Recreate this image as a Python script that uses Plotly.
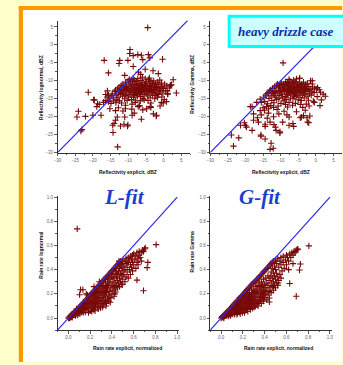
import plotly.graph_objects as go

# ---------------- data ----------------
refl_lognormal_pts = [
    (-15.2,-15.0),(-14.8,-14.2),(-14.5,-13.6),(-14.1,-14.8),(-13.8,-13.0),(-13.6,-12.6),(-13.4,-14.0),(-13.2,-15.3),(-13.0,-12.2),(-12.8,-13.4),
    (-15.6,-15.8),(-14.9,-16.3),(-14.2,-15.6),(-13.5,-16.1),(-12.9,-14.6),
    (-12.6,-11.8),(-12.4,-12.9),(-12.2,-13.8),(-12.0,-11.3),(-11.8,-12.4),(-11.6,-14.3),(-11.5,-10.9),(-11.3,-13.1),(-11.1,-12.0),(-11.0,-15.0),
    (-12.5,-15.6),(-11.9,-16.2),(-11.4,-11.6),(-12.1,-12.6),(-11.7,-13.5),
    (-10.8,-10.4),(-10.7,-12.8),(-10.5,-11.5),(-10.4,-13.7),(-10.2,-12.2),(-10.0,-10.0),(-9.9,-14.5),(-9.8,-11.1),(-9.6,-12.9),(-9.5,-13.9),
    (-9.4,-10.6),(-9.3,-12.0),(-9.1,-15.2),(-9.0,-11.4),(-10.9,-14.1),(-10.3,-15.5),(-9.7,-9.6),(-10.6,-11.9),(-9.2,-13.3),(-10.1,-12.5),
    (-8.9,-12.6),(-8.8,-10.2),(-8.7,-13.8),(-8.6,-11.7),(-8.5,-14.6),(-8.4,-12.2),(-8.3,-9.8),(-8.2,-13.1),(-8.1,-11.0),(-8.0,-12.8),
    (-7.9,-15.4),(-7.8,-10.6),(-7.7,-13.5),(-7.6,-11.9),(-7.5,-12.4),(-7.4,-14.2),(-7.3,-9.4),(-7.2,-11.3),(-7.1,-13.0),(-7.0,-12.1),
    (-8.6,-9.3),(-8.0,-16.0),(-7.6,-10.1),(-8.3,-14.0),(-7.2,-12.7),
    (-6.9,-10.8),(-6.8,-13.6),(-6.7,-12.3),(-6.6,-11.5),(-6.5,-14.4),(-6.4,-9.9),(-6.3,-12.9),(-6.2,-11.1),(-6.1,-13.3),(-6.0,-12.0),
    (-5.9,-10.4),(-5.8,-14.9),(-5.7,-11.8),(-5.6,-12.6),(-5.5,-13.8),(-5.4,-10.9),(-5.3,-12.2),(-5.2,-9.5),(-5.1,-11.4),(-5.0,-13.0),
    (-6.6,-15.6),(-6.0,-9.0),(-5.5,-15.3),(-6.3,-11.2),(-5.8,-12.4),
    (-4.9,-12.5),(-4.8,-10.3),(-4.7,-13.6),(-4.6,-11.6),(-4.5,-14.2),(-4.4,-12.0),(-4.3,-9.7),(-4.2,-13.1),(-4.1,-10.8),(-4.0,-12.7),
    (-3.9,-11.3),(-3.8,-14.7),(-3.7,-12.3),(-3.6,-10.1),(-3.5,-13.4),(-3.4,-11.8),(-3.3,-12.9),(-3.2,-10.6),(-3.1,-14.0),(-3.0,-11.1),
    (-4.4,-15.5),(-3.6,-16.2),(-4.0,-9.2),
    (-2.9,-12.4),(-2.8,-10.0),(-2.7,-13.2),(-2.6,-11.5),(-2.4,-12.8),(-2.3,-10.9),(-2.2,-14.1),(-2.0,-11.9),(-1.9,-13.5),(-1.8,-10.4),
    (-1.6,-12.2),(-1.5,-11.0),(-1.4,-13.8),(-1.2,-12.6),(-1.1,-9.8),(-1.0,-11.6),(-2.5,-15.0),(-1.7,-14.6),
    (-0.8,-12.9),(-0.6,-10.6),(-0.4,-11.8),(-0.2,-13.4),(0.0,-12.1),(0.3,-10.9),(0.6,-12.7),(0.9,-11.4),(1.2,-13.6),(1.6,-12.0),
    (2.7,-9.7),(1.0,-12.8),(-0.5,-14.5),(0.2,-15.2),(2.0,-11.2),(3.6,-13.4),(2.2,-11.1),
    (-4.5,4.8),(-9.5,-1.3),(-9.6,-2.4),(-8.6,-3.0),(-7.3,-2.7),(-4.3,-2.7),(-6.3,-2.9),(-3.9,-3.6),(-5.9,-4.1),(-16.8,-4.3),
    (-12.4,-4.3),(-12.6,-5.2),(-10.1,-4.3),(-8.6,-6.0),(-0.3,-4.0),(-15.6,-7.8),(-5.2,-6.8),(-7.1,-7.6),(-3.0,-7.2),(-1.5,-8.0),
    (-11.0,-8.5),(-6.5,-8.2),
    (-21.3,-13.2),(-19.8,-15.3),(-18.2,-16.6),(-18.9,-17.2),(-17.7,-19.6),(-24.1,-18.5),(-24.5,-20.1),(-22.1,-19.9),(-20.0,-19.6),(-23.1,-23.6),
    (-23.4,-24.0),(-14.4,-22.4),(-13.1,-20.1),(-11.0,-20.1),(-13.6,-21.0),(-12.2,-22.6),(-14.3,-24.4),(-13.0,-28.4),(-10.2,-22.6),(-10.1,-22.3),
    (-6.3,-20.7),(-2.1,-19.8),(-3.8,-17.2),(-3.6,-17.4),(-5.9,-18.1),(-7.2,-17.2),(-0.1,-16.2),
    (-16.5,-15.5),(-16.0,-14.5),(-15.2,-17.8),(-12.8,-17.5),(-11.5,-18.4),(-9.0,-17.9),(-8.3,-19.0),(-6.8,-16.9),(-4.8,-17.8),(-1.0,-17.0),
    (0.8,-15.8),(-17.0,-16.0),(-16.4,-13.8),(-10.8,-16.8),(-8.9,-16.5),(-15.9,-12.8),(-15.6,-14.0),(-18.7,-16.4),(-19.6,-15.3),(-14.0,-21.9),
    (-13.6,-18.3),(-10.8,-17.8),(-8.9,-19.6),(-11.2,-22.1),(-2.9,-19.2),(-2.0,-19.6),(-0.6,-16.0),(1.1,-13.7),(1.8,-11.4),
]

refl_gamma_pts = [
    (-14.8,-14.6),(-14.5,-15.8),(-14.2,-14.0),(-13.9,-13.6),(-13.7,-16.4),(-13.5,-13.3),(-13.3,-14.9),(-13.1,-12.9),(-15.5,-16.0),(-14.0,-17.2),
    (-13.4,-17.8),(-15.0,-17.5),(-14.6,-18.2),
    (-12.9,-12.6),(-12.7,-14.2),(-12.5,-15.5),(-12.3,-12.1),(-12.1,-13.5),(-11.9,-16.1),(-11.7,-11.7),(-11.5,-14.6),(-11.3,-12.8),(-11.1,-15.2),
    (-12.8,-16.9),(-12.0,-17.4),(-11.6,-13.2),(-12.4,-13.0),(-11.2,-11.3),(-11.8,-14.0),
    (-10.9,-10.9),(-10.8,-13.4),(-10.6,-12.0),(-10.5,-15.0),(-10.3,-11.4),(-10.2,-14.1),(-10.0,-12.6),(-9.9,-16.3),(-9.8,-10.6),(-9.6,-13.0),
    (-9.5,-11.8),(-9.4,-14.7),(-9.2,-12.3),(-9.1,-10.9),(-9.0,-15.6),(-10.7,-17.0),(-10.1,-11.0),(-9.7,-13.7),(-10.4,-12.9),(-9.3,-11.2),
    (-8.9,-13.1),(-8.8,-11.5),(-8.7,-14.4),(-8.6,-10.3),(-8.5,-12.4),(-8.4,-15.2),(-8.3,-11.0),(-8.2,-13.7),(-8.1,-12.0),(-8.0,-10.6),
    (-7.9,-14.0),(-7.8,-12.7),(-7.7,-11.3),(-7.6,-16.0),(-7.5,-13.3),(-7.4,-10.1),(-7.3,-12.2),(-7.2,-14.8),(-7.1,-11.7),(-7.0,-13.0),
    (-8.6,-16.6),(-8.0,-17.3),(-7.4,-12.5),(-8.3,-12.9),(-7.8,-10.9),
    (-6.9,-11.4),(-6.8,-13.5),(-6.7,-10.5),(-6.6,-12.6),(-6.5,-15.0),(-6.4,-11.9),(-6.3,-13.9),(-6.2,-10.8),(-6.1,-12.3),(-6.0,-14.4),
    (-5.9,-11.1),(-5.8,-13.0),(-5.7,-10.3),(-5.6,-12.0),(-5.5,-14.1),(-5.4,-11.6),(-5.3,-13.4),(-5.2,-10.9),(-5.1,-12.7),(-5.0,-15.3),
    (-6.6,-16.8),(-5.8,-16.3),(-6.3,-9.8),(-5.5,-9.5),(-6.0,-12.9),
    (-4.9,-11.8),(-4.8,-13.6),(-4.7,-10.6),(-4.6,-12.5),(-4.5,-14.6),(-4.4,-11.2),(-4.3,-13.1),(-4.2,-12.0),(-4.1,-15.5),(-4.0,-10.9),
    (-3.9,-12.8),(-3.8,-14.0),(-3.7,-11.5),(-3.6,-13.3),(-3.5,-10.4),(-3.4,-12.2),(-3.3,-14.8),(-3.2,-11.9),(-3.1,-13.7),(-3.0,-12.6),
    (-4.4,-16.6),(-3.7,-17.4),(-4.6,-9.3),
    (-2.9,-11.0),(-2.8,-13.0),(-2.6,-12.1),(-2.5,-14.3),(-2.4,-10.7),(-2.2,-12.8),(-2.1,-15.4),(-2.0,-11.6),(-1.8,-13.6),(-1.6,-12.4),
    (-1.5,-10.0),(-1.3,-14.0),(-1.1,-12.9),(-0.9,-11.7),(-0.7,-15.7),(-0.5,-13.3),(-0.3,-12.2),(-2.7,-16.5),(-1.9,-17.0),(-1.0,-10.9),
    (0.25,-12.3),(1.0,-12.5),(2.7,-14.3),(0.5,-11.9),(1.3,-13.2),(2.1,-13.7),(1.2,-16.9),(-0.4,-16.0),(0.4,-14.4),(1.6,-15.3),
    (-9.3,-5.0),(-7.6,-9.6),(-4.6,-9.3),(-1.0,-10.0),(-2.3,-21.5),(-4.1,-20.1),(-1.7,-19.8),(-18.1,-17.2),(-15.8,-18.3),(-17.7,-21.0),
    (-20.0,-22.4),(-18.1,-23.8),(-14.4,-22.7),(-15.6,-25.4),(-14.4,-26.2),(-12.7,-27.4),(-13.0,-29.1),(-12.1,-28.8),(-11.3,-23.8),(-10.2,-24.2),
    (-9.4,-21.5),(-11.9,-22.2),(-13.0,-21.5),(-6.5,-21.9),(-7.6,-20.1),(-3.5,-19.7),(-24.0,-25.1),(-23.4,-28.2),(-21.9,-25.9),(-21.4,-22.4),
    (-19.7,-22.9),(-20.3,-21.7),(-15.6,-25.1),(-18.6,-17.2),(-17.7,-19.2),(-16.6,-20.3),(-16.3,-21.5),(-14.4,-22.1),(-15.8,-15.1),(-11.5,-22.9),
    (-10.2,-24.5),(-7.6,-22.4),(-6.3,-22.7),(-4.4,-20.3),(-2.5,-20.3),(-2.0,-21.7),(-16.8,-16.0),(-15.5,-19.5),(-13.5,-19.0),(-12.0,-20.0),
    (-10.5,-19.2),(-9.0,-18.5),(-8.2,-19.5),(-5.5,-18.6),(-3.0,-18.2),(-11.0,-18.0),(-13.8,-20.4),
]

rain_lognormal_pts = [
    (0.00,0.00),(0.01,0.01),(0.02,0.005),(0.02,0.02),(0.03,0.01),(0.03,0.03),(0.04,0.02),(0.04,0.035),(0.05,0.03),(0.05,0.045),(0.01,0.0),(0.035,0.005),
    (0.06,0.04),(0.06,0.055),(0.07,0.03),(0.07,0.06),(0.08,0.05),(0.08,0.07),(0.09,0.04),(0.09,0.08),(0.10,0.06),(0.10,0.09),(0.065,0.02),(0.085,0.025),(0.095,0.065),(0.075,0.075),
    (0.11,0.07),(0.11,0.10),(0.12,0.05),(0.12,0.09),(0.13,0.08),(0.13,0.12),(0.14,0.06),(0.14,0.10),(0.15,0.09),(0.15,0.13),(0.12,0.11),(0.14,0.13),
    (0.105,0.035),(0.135,0.045),(0.112,0.234),(0.133,0.234),(0.103,0.193),(0.145,0.115),
    (0.16,0.07),(0.16,0.11),(0.16,0.15),(0.17,0.09),(0.17,0.13),(0.17,0.16),(0.18,0.08),(0.18,0.12),(0.18,0.17),(0.19,0.10),(0.19,0.14),(0.19,0.18),
    (0.20,0.06),(0.20,0.11),(0.20,0.15),(0.20,0.19),(0.155,0.05),(0.185,0.045),(0.175,0.19),(0.165,0.20),
    (0.21,0.08),(0.21,0.13),(0.21,0.17),(0.21,0.20),(0.22,0.10),(0.22,0.15),(0.22,0.21),(0.23,0.07),(0.23,0.12),(0.23,0.18),(0.23,0.22),
    (0.24,0.09),(0.24,0.14),(0.24,0.19),(0.24,0.23),(0.25,0.11),(0.25,0.16),(0.25,0.21),(0.25,0.24),(0.215,0.055),(0.245,0.06),(0.235,0.26),(0.25,0.099),
    (0.26,0.13),(0.26,0.18),(0.26,0.23),(0.26,0.25),(0.27,0.09),(0.27,0.15),(0.27,0.20),(0.27,0.26),(0.28,0.12),(0.28,0.17),(0.28,0.22),(0.28,0.27),
    (0.29,0.10),(0.29,0.14),(0.29,0.19),(0.29,0.24),(0.29,0.28),(0.30,0.12),(0.30,0.16),(0.30,0.21),(0.30,0.26),(0.30,0.29),(0.275,0.075),(0.295,0.085),(0.285,0.30),
    (0.31,0.14),(0.31,0.19),(0.31,0.24),(0.31,0.30),(0.32,0.11),(0.32,0.17),(0.32,0.22),(0.32,0.27),(0.32,0.31),(0.33,0.13),(0.33,0.20),(0.33,0.25),
    (0.33,0.32),(0.34,0.15),(0.34,0.18),(0.34,0.23),(0.34,0.29),(0.34,0.33),(0.35,0.12),(0.35,0.21),(0.35,0.26),(0.35,0.34),(0.315,0.09),(0.345,0.10),
    (0.36,0.16),(0.36,0.24),(0.36,0.30),(0.36,0.35),(0.37,0.14),(0.37,0.19),(0.37,0.27),(0.37,0.33),(0.37,0.36),(0.38,0.17),(0.38,0.22),(0.38,0.29),
    (0.38,0.37),(0.39,0.166),(0.39,0.25),(0.39,0.32),(0.39,0.38),(0.40,0.20),(0.40,0.27),(0.40,0.34),(0.40,0.39),(0.385,0.13),(0.395,0.36),
    (0.41,0.23),(0.41,0.30),(0.41,0.36),(0.41,0.40),(0.42,0.18),(0.42,0.26),(0.42,0.33),(0.42,0.41),(0.43,0.24),(0.43,0.29),(0.43,0.37),(0.43,0.42),
    (0.435,0.215),(0.44,0.27),(0.44,0.34),(0.44,0.39),(0.44,0.43),(0.45,0.25),(0.45,0.31),(0.45,0.36),(0.45,0.44),(0.425,0.20),
    (0.46,0.29),(0.46,0.38),(0.46,0.45),(0.47,0.26),(0.47,0.33),(0.47,0.41),(0.47,0.46),(0.48,0.30),(0.48,0.37),(0.48,0.44),(0.48,0.47),
    (0.49,0.28),(0.49,0.35),(0.49,0.42),(0.495,0.275),(0.50,0.32),(0.50,0.39),(0.50,0.45),(0.50,0.48),(0.465,0.47),
    (0.51,0.36),(0.51,0.43),(0.52,0.30),(0.52,0.40),(0.52,0.47),(0.53,0.34),(0.53,0.45),(0.53,0.49),(0.54,0.38),(0.54,0.42),(0.55,0.33),(0.55,0.46),(0.55,0.50),
    (0.56,0.40),(0.56,0.48),(0.57,0.36),(0.57,0.44),(0.57,0.51),(0.58,0.42),(0.58,0.49),(0.59,0.39),(0.59,0.46),(0.59,0.52),(0.60,0.44),(0.60,0.53),
    (0.61,0.48),(0.62,0.41),(0.62,0.51),(0.63,0.313),(0.63,0.46),(0.63,0.54),(0.64,0.49),(0.65,0.52),(0.65,0.55),(0.66,0.50),(0.67,0.54),(0.68,0.56),
    (0.69,0.55),(0.70,0.57),(0.706,0.58),(0.67,0.47),(0.64,0.44),
    (0.081,0.737),(0.806,0.607),(0.724,0.417),(0.73,0.46),(0.69,0.226),
]

rain_gamma_pts = [
    (0.00,0.00),(0.01,0.005),(0.01,0.012),(0.02,0.01),(0.02,0.02),(0.03,0.015),(0.03,0.028),(0.04,0.02),(0.04,0.038),(0.05,0.025),(0.05,0.047),(0.025,0.0),
    (0.06,0.03),(0.06,0.055),(0.07,0.025),(0.07,0.045),(0.07,0.065),(0.08,0.035),(0.08,0.075),(0.09,0.04),(0.09,0.06),(0.09,0.085),(0.10,0.03),
    (0.10,0.07),(0.10,0.095),(0.085,0.02),(0.065,0.015),
    (0.11,0.05),(0.11,0.08),(0.11,0.105),(0.12,0.04),(0.12,0.09),(0.12,0.115),(0.13,0.06),(0.13,0.10),(0.13,0.125),(0.14,0.05),(0.14,0.08),(0.14,0.11),
    (0.14,0.135),(0.15,0.04),(0.15,0.07),(0.15,0.12),(0.15,0.145),(0.125,0.03),(0.145,0.03),
    (0.16,0.06),(0.16,0.09),(0.16,0.13),(0.16,0.155),(0.17,0.05),(0.17,0.10),(0.17,0.14),(0.17,0.165),(0.18,0.07),(0.18,0.11),(0.18,0.15),(0.18,0.175),
    (0.19,0.06),(0.19,0.09),(0.19,0.13),(0.19,0.185),(0.20,0.08),(0.20,0.12),(0.20,0.16),(0.20,0.195),(0.175,0.035),(0.195,0.045),
    (0.21,0.06),(0.21,0.10),(0.21,0.14),(0.21,0.18),(0.21,0.205),(0.22,0.09),(0.22,0.13),(0.22,0.17),(0.22,0.215),(0.23,0.07),(0.23,0.11),(0.23,0.15),
    (0.23,0.19),(0.23,0.225),(0.24,0.08),(0.24,0.12),(0.24,0.16),(0.24,0.20),(0.24,0.235),(0.25,0.10),(0.25,0.14),(0.25,0.18),(0.25,0.245),(0.215,0.045),(0.245,0.055),
    (0.26,0.09),(0.26,0.13),(0.26,0.17),(0.26,0.21),(0.26,0.255),(0.27,0.07),(0.27,0.11),(0.27,0.15),(0.27,0.19),(0.27,0.265),(0.28,0.10),(0.28,0.14),
    (0.28,0.18),(0.28,0.23),(0.28,0.275),(0.29,0.08),(0.29,0.12),(0.29,0.16),(0.29,0.21),(0.29,0.285),(0.30,0.10),(0.30,0.15),(0.30,0.19),(0.30,0.24),(0.30,0.295),
    (0.31,0.09),(0.31,0.13),(0.31,0.17),(0.31,0.22),(0.31,0.30),(0.32,0.11),(0.32,0.15),(0.32,0.20),(0.32,0.26),(0.32,0.31),(0.33,0.12),(0.33,0.18),
    (0.33,0.23),(0.33,0.32),(0.34,0.10),(0.34,0.14),(0.34,0.21),(0.34,0.27),(0.34,0.33),(0.35,0.13),(0.35,0.17),(0.35,0.24),(0.35,0.29),(0.35,0.34),
    (0.36,0.15),(0.36,0.20),(0.36,0.26),(0.36,0.35),(0.37,0.12),(0.37,0.18),(0.37,0.23),(0.37,0.30),(0.37,0.36),(0.38,0.16),(0.38,0.21),(0.38,0.27),
    (0.38,0.37),(0.39,0.14),(0.39,0.19),(0.39,0.25),(0.39,0.32),(0.39,0.38),(0.40,0.17),(0.40,0.22),(0.40,0.28),(0.40,0.39),
    (0.41,0.20),(0.41,0.25),(0.41,0.33),(0.41,0.40),(0.42,0.15),(0.42,0.23),(0.42,0.29),(0.42,0.41),(0.43,0.19),(0.43,0.27),(0.43,0.35),(0.43,0.42),
    (0.443,0.166),(0.443,0.133),(0.44,0.22),(0.44,0.31),(0.44,0.43),(0.45,0.25),(0.45,0.34),(0.45,0.44),
    (0.46,0.21),(0.46,0.29),(0.46,0.38),(0.46,0.45),(0.47,0.26),(0.47,0.33),(0.47,0.41),(0.47,0.46),(0.48,0.23),(0.48,0.30),(0.48,0.37),(0.48,0.47),
    (0.49,0.27),(0.49,0.35),(0.49,0.43),(0.50,0.25),(0.50,0.32),(0.50,0.40),(0.50,0.48),
    (0.51,0.29),(0.51,0.37),(0.51,0.45),(0.52,0.27),(0.52,0.34),(0.52,0.49),(0.525,0.289),(0.53,0.31),(0.53,0.42),(0.54,0.36),(0.54,0.47),(0.55,0.33),
    (0.55,0.44),(0.55,0.50),(0.56,0.39),(0.57,0.46),(0.57,0.51),(0.58,0.41),(0.59,0.48),(0.60,0.44),(0.60,0.52),
    (0.61,0.50),(0.62,0.47),(0.63,0.286),(0.63,0.53),(0.64,0.50),(0.65,0.54),(0.66,0.52),(0.67,0.55),(0.68,0.54),(0.69,0.56),(0.70,0.57),(0.706,0.568),
    (0.62,0.40),(0.66,0.45),
    (0.806,0.596),(0.728,0.446),(0.72,0.397),(0.69,0.18),
]

one_to_one_refl = [-30, 8]
one_to_one_rain = [-0.1, 1.0]

# ---------------- layout helpers ----------------
W, H = 343, 365
def px(x):
    return x / W
def py(y):
    return 1 - y / H

MARK = "#780808"
LINE = "#2b2bf0"
AX = "#333333"

fig = go.Figure()

panels = [
    ("x", "y", refl_lognormal_pts, one_to_one_refl),
    ("x2", "y2", refl_gamma_pts, one_to_one_refl),
    ("x3", "y3", rain_lognormal_pts, one_to_one_rain),
    ("x4", "y4", rain_gamma_pts, one_to_one_rain),
]
for xa, ya, pts, diag in panels:
    fig.add_trace(go.Scatter(
        x=[p[0] for p in pts], y=[p[1] for p in pts], xaxis=xa, yaxis=ya,
        mode="markers",
        marker=dict(symbol="cross-thin", size=4.5, line=dict(color=MARK, width=1.1), color=MARK),
        showlegend=False, hoverinfo="skip"))
    fig.add_trace(go.Scatter(
        x=diag, y=diag, xaxis=xa, yaxis=ya, mode="lines",
        line=dict(color=LINE, width=1.2), showlegend=False, hoverinfo="skip"))

def axis(dom, rng, tick0, dtick, fmt, anchor):
    return dict(domain=dom, range=rng, anchor=anchor, showgrid=False, zeroline=False,
                showline=True, linecolor=AX, linewidth=1, ticks="outside", ticklen=2.5,
                tickwidth=0.8, tickcolor=AX, tickmode="linear", tick0=tick0, dtick=dtick,
                tickformat=fmt, tickfont=dict(size=4.5, color="#666666", family="Arial"),
                minor=dict(ticks="outside", ticklen=1.3, tickcolor=AX, dtick=dtick / 2, tick0=tick0))

top_y = [py(152.7), py(19)]
bot_y = [py(332.7), py(197)]

fig.update_layout(
    width=W, height=H, margin=dict(l=0, r=0, t=0, b=0),
    paper_bgcolor="#ffffcc", plot_bgcolor="rgba(0,0,0,0)",
    xaxis=axis([px(54.3), px(188.9)], [-30, 7.5], -30, 5, "d", "y"),
    yaxis=axis(top_y, [-30, 6.73], -30, 5, "d", "x"),
    xaxis2=axis([px(209.3), 1.0], [-30, 7.45], -30, 5, "d", "y2"),
    yaxis2=axis(top_y, [-30, 6.73], -30, 5, "d", "x2"),
    xaxis3=axis([px(54.3), px(178)], [-0.1, 1.02], 0, 0.2, ".1f", "y3"),
    yaxis3=axis(bot_y, [-0.1, 1.006], 0, 0.2, ".1f", "x3"),
    xaxis4=axis([px(209.3), px(333)], [-0.1, 1.02], 0, 0.2, ".1f", "y4"),
    yaxis4=axis(bot_y, [-0.1, 1.006], 0, 0.2, ".1f", "x4"),
)

shapes = [
    dict(type="rect", xref="paper", yref="paper", x0=px(15), x1=1.0, y0=py(8), y1=py(4),
         fillcolor="#ff9900", line=dict(width=0), layer="below"),
    dict(type="rect", xref="paper", yref="paper", x0=px(15), x1=px(19.5), y0=0, y1=py(4),
         fillcolor="#ff9900", line=dict(width=0), layer="below"),
    dict(type="rect", xref="paper", yref="paper", x0=px(19.5), x1=1.0, y0=0, y1=py(8),
         fillcolor="#ffffff", line=dict(width=0), layer="below"),
    dict(type="rect", xref="paper", yref="paper", x0=px(228.5), x1=px(346), y0=py(45), y1=py(14.5),
         fillcolor="#ccffff", line=dict(color="#00ffff", width=3), layer="above"),
]
fig.update_layout(shapes=shapes)

def ann(text, x, y, size, color="#111111", angle=0, family="Arial", xanchor="center"):
    return dict(text=text, x=px(x), y=py(y), xref="paper", yref="paper", showarrow=False,
                xanchor=xanchor, yanchor="middle", textangle=angle,
                font=dict(size=size, color=color, family=family))

annotations = [
    ann("<b>Reflectivity explicit, dBZ</b>", 126, 172, 5),
    ann("<b>Reflectivity explicit, dBZ</b>", 281, 172, 5),
    ann("<b>Reflectivity lognormal, dBZ</b>", 37.7, 87, 5, angle=-90),
    ann("<b>Reflectivity Gamma, dBZ</b>", 190.7, 83, 5, angle=-90),
    ann("<b>Rain rate explicit, normalized</b>", 125, 351, 5),
    ann("<b>Rain rate explicit, normalized</b>", 279, 351, 5),
    ann("<b>Rain rate lognormal</b>", 37.7, 256, 5, angle=-90),
    ann("<b>Rain rate Gamma</b>", 190.7, 253, 5, angle=-90),
    ann("<b><i>L-fit</i></b>", 122, 198, 21, color="#1a3fcf", family="Liberation Serif, Times New Roman, serif"),
    ann("<b><i>G-fit</i></b>", 260, 198, 21, color="#1a3fcf", family="Liberation Serif, Times New Roman, serif"),
    ann("<b><i>heavy drizzle case</i></b>", 235, 30, 13, color="#0b2fa8",
        family="Liberation Serif, Times New Roman, serif", xanchor="left"),
]
fig.update_layout(annotations=annotations)

fig.write_html("out.html", config={"displayModeBar": False, "staticPlot": True},
               post_script="document.body.style.margin='0';document.body.style.overflow='hidden';")
